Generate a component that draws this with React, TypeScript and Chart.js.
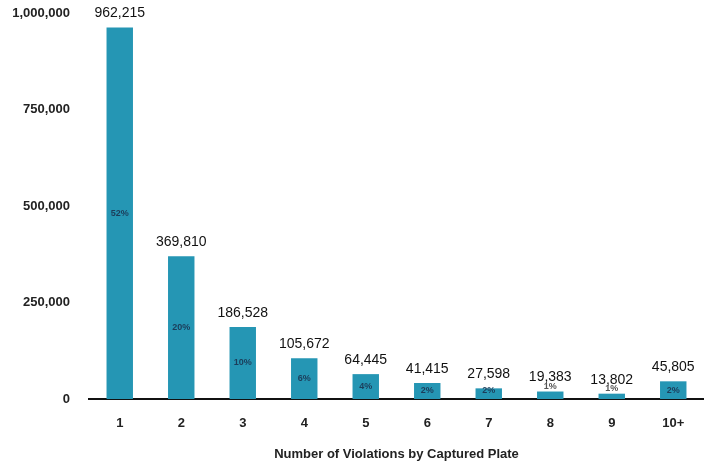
import React, { useEffect, useRef } from "react";
import { Chart, registerables } from "chart.js";

Chart.register(...registerables);

const categories = ["1", "2", "3", "4", "5", "6", "7", "8", "9", "10+"];
const plateCounts = [962215, 369810, 186528, 105672, 64445, 41415, 27598, 19383, 13802, 45805];
const shareLabels = ["52%", "20%", "10%", "6%", "4%", "2%", "2%", "1%", "1%", "2%"];
const yTicks = [0, 250000, 500000, 750000, 1000000];

const FONT = "'Liberation Sans', Arial, sans-serif";

const labelPlugin = {
  id: "barLabels",
  afterDatasetsDraw(chart: any) {
    const ctx = chart.ctx;
    const meta = chart.getDatasetMeta(0);
    const base = chart.scales.y.getPixelForValue(0);
    ctx.save();
    ctx.textAlign = "center";
    ctx.textBaseline = "middle";
    meta.data.forEach((bar: any, i: number) => {
      const top = bar.y;
      ctx.fillStyle = "#111111";
      ctx.font = `14px ${FONT}`;
      ctx.fillText(plateCounts[i].toLocaleString("en-US"), bar.x, top - 14);
      const h = base - top;
      ctx.font = `bold 9px ${FONT}`;
      if (h < 9) {
        ctx.fillStyle = "#555555";
        ctx.fillText(shareLabels[i], bar.x, top - 5);
      } else {
        ctx.fillStyle = "#1c3d5a";
        ctx.fillText(shareLabels[i], bar.x, Math.min((top + base) / 2, base - 8));
      }
    });
    ctx.restore();
  },
};

export default function App() {
  const ref = useRef<HTMLCanvasElement | null>(null);
  useEffect(() => {
    if (!ref.current) return;
    const chart = new Chart(ref.current, {
      type: "bar",
      data: {
        labels: categories,
        datasets: [
          {
            data: plateCounts,
            backgroundColor: "#2596b4",
            barPercentage: 0.43,
            categoryPercentage: 1,
          },
        ],
      },
      options: {
        animation: false,
        responsive: false,
        maintainAspectRatio: false,
        layout: { padding: { left: 0, right: 0, top: 13, bottom: 0 } },
        plugins: { legend: { display: false }, tooltip: { enabled: false } },
        scales: {
          x: {
            grid: { display: false, drawTicks: false },
            border: { display: true, color: "#111111", width: 2 },
            afterFit: (scale: any) => {
              scale.height = 63;
              scale.paddingLeft = 0;
              scale.paddingRight = 0;
            },
            ticks: {
              color: "#222222",
              font: { family: FONT, size: 13, weight: "bold" },
              padding: 17,
            },
            title: {
              display: true,
              text: "Number of Violations by Captured Plate",
              color: "#222222",
              font: { family: FONT, size: 13, weight: "bold" },
              padding: { top: 14, bottom: 0 },
            },
          },
          y: {
            min: 0,
            max: 1000000,
            afterBuildTicks: (scale: any) => {
              scale.ticks = yTicks.map((v) => ({ value: v }));
            },
            afterFit: (scale: any) => {
              scale.width = 89;
              scale.paddingTop = 0;
              scale.paddingBottom = 0;
            },
            grid: { display: false, drawTicks: false },
            border: { display: false },
            ticks: {
              color: "#222222",
              font: { family: FONT, size: 13, weight: "bold" },
              padding: 19,
              callback: (v: any) => Number(v).toLocaleString("en-US"),
            },
          },
        },
      },
      plugins: [labelPlugin],
    });
    return () => chart.destroy();
  }, []);
  return (
    <div style={{ position: "absolute", left: 0, top: 0, width: 704, height: 462, background: "#fff" }}>
      <canvas ref={ref} width={704} height={462} style={{ width: 704, height: 462 }} />
    </div>
  );
}
